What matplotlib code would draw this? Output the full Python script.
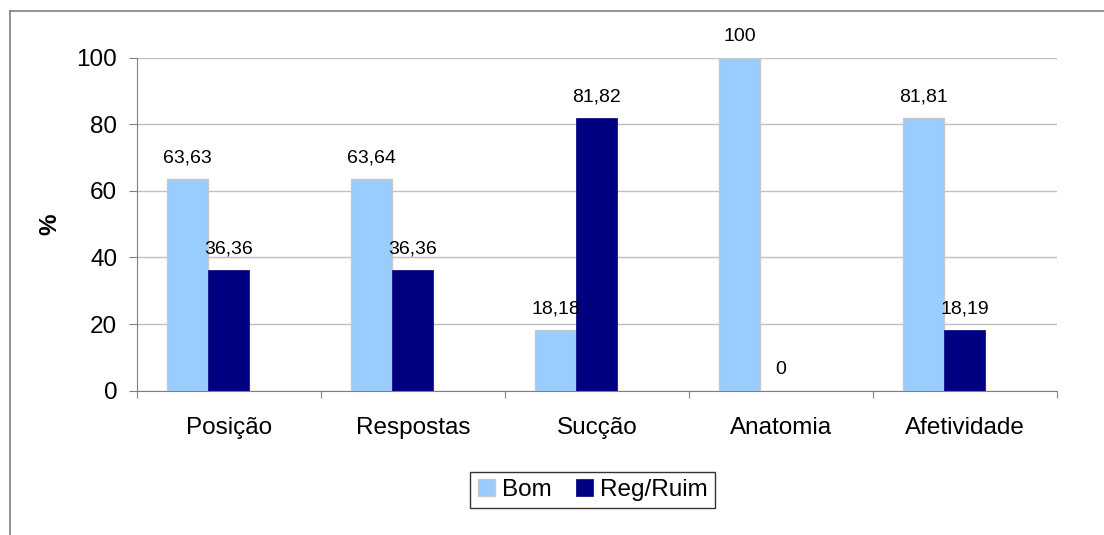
import matplotlib.pyplot as plt
from matplotlib.lines import Line2D
import numpy as np

plt.rcParams['font.family'] = ['Liberation Sans', 'DejaVu Sans']

categorias = ["Posição", "Respostas", "Sucção", "Anatomia", "Afetividade"]
bom = [63.63, 63.64, 18.18, 100, 81.81]
reg_ruim = [36.36, 36.36, 81.82, 0, 18.19]
yticks = [0, 20, 40, 60, 80, 100]


def rotulo(v):
    if float(v).is_integer():
        return str(int(v))
    return ("%.2f" % v).replace(".", ",")


fig = plt.figure(figsize=(11.04, 5.35), dpi=100)
ax = fig.add_axes([0.1239, 0.2697, 0.8335, 0.6225])

# moldura do grafico (cortada a direita e embaixo)
fig.add_artist(Line2D([10 / 1104, 10 / 1104], [1 - 11 / 535, 0], color="#808080", lw=1.2))
fig.add_artist(Line2D([10 / 1104, 1], [1 - 11 / 535, 1 - 11 / 535], color="#808080", lw=1.2))

x = np.arange(len(categorias))
w = 0.223
b1 = ax.bar(x - w, bom, w, color="#99ccff", edgecolor="#c8c8c8", lw=1, label="Bom", zorder=3)
b2 = ax.bar(x, reg_ruim, w, color="#000080", edgecolor="#000080", lw=0.5, label="Reg/Ruim", zorder=3)

for bars, vals in [(b1, bom), (b2, reg_ruim)]:
    for r, v in zip(bars, vals):
        ax.annotate(rotulo(v), (r.get_x() + r.get_width() / 2, v), xytext=(0, 15),
                    textcoords="offset points", ha="center", va="center", fontsize=14,
                    zorder=5)

ax.set_xlim(-0.5, 4.5)
ax.set_ylim(0, 100)
ax.set_yticks(yticks)
ax.set_yticklabels([str(t) for t in yticks], fontsize=17.5)
ax.tick_params(axis="y", length=6, color="#808080", pad=8)
ax.set_xticks(np.arange(-0.5, 5, 1))
ax.set_xticklabels([])
ax.tick_params(axis="x", which="major", length=5, color="#808080")
ax.set_xticks(x, minor=True)
ax.set_xticklabels(categorias, minor=True, fontsize=17.5)
ax.tick_params(axis="x", which="minor", length=0, pad=19)

ax.grid(axis="y", color="#c0c0c0", lw=1, zorder=0)
for s in ["top", "right"]:
    ax.spines[s].set_visible(False)
for s in ["left", "bottom"]:
    ax.spines[s].set_color("#808080")
ax.set_ylabel("%", fontsize=17.5, fontweight="bold", labelpad=11)

leg = fig.legend(handles=[b1, b2], loc="center", bbox_to_anchor=(0.537, 0.084), ncol=2,
                 fontsize=17.5, frameon=True, fancybox=False, handlelength=0.7,
                 handleheight=0.7, handletextpad=0.3, columnspacing=1.0,
                 borderpad=0.3, borderaxespad=0)
leg.get_frame().set_edgecolor("black")
leg.get_frame().set_linewidth(1)

fig.savefig("out.png", dpi=100)
